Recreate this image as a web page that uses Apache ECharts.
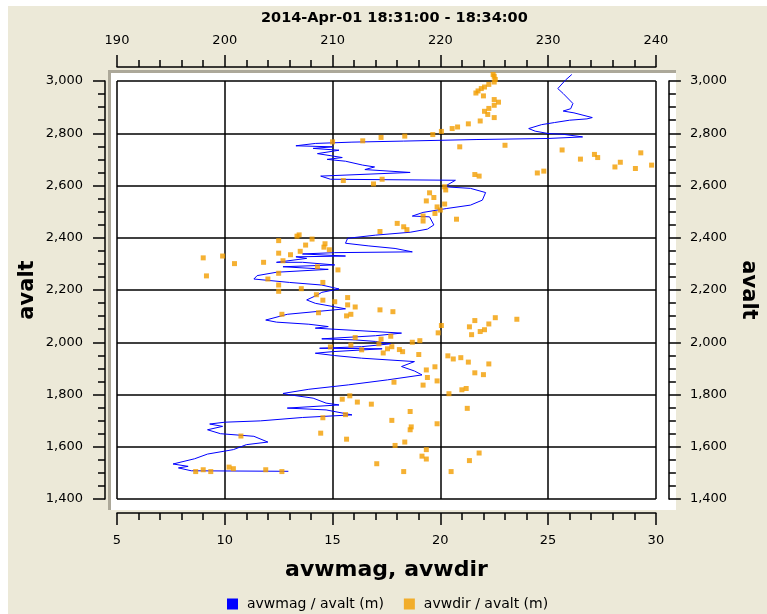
<!DOCTYPE html>
<html>
<head>
<meta charset="utf-8">
<script src="https://cdn.jsdelivr.net/npm/echarts@6/dist/echarts.min.js"></script>
<style>
html,body{margin:0;padding:0;background:#fff;}
#chart{width:767px;height:614px;}
</style>
</head>
<body>
<div id="chart"></div>
<script>
// ---- data ----
const titleText = '2014-Apr-01 18:31:00 - 18:34:00';
const magSeriesName = 'avwmag / avalt (m)';
const dirSeriesName = 'avwdir / avalt (m)';

// blue profile: avwmag (bottom axis) versus avalt
const magValues = [26.1,25.8,25.45,25.7,26.15,26.05,25.7,26.2,27.05,26.8,26.0,25.3,24.7,24.1,24.4,25.0,25.7,26.6,25.0,21.7,
  18.3,15.9,14.2,13.3,15.0,14.1,15.3,14.3,15.45,14.75,15.6,16.4,16.95,16.5,18.6,14.45,14.9,20.7,20.3,20.2,
  21.4,22.1,21.95,21.4,20.3,19.2,18.7,19.5,19.7,19.4,18.6,17.0,15.7,15.6,16.65,17.9,18.7,15.1,13.6,15.6,
  13.3,13.8,12.4,13.6,15.1,12.7,14.8,12.4,11.5,11.35,13.0,14.5,15.3,14.5,14.3,13.8,14.2,15.6,12.9,11.9,
  12.4,13.9,14.8,14.2,18.2,17.0,14.5,16.05,17.0,17.7,16.35,14.4,17.3,15.0,14.2,15.1,16.35,18.8,18.2,18.8,
  19.15,17.55,15.75,13.9,12.7,13.0,14.1,14.7,15.3,12.9,14.7,15.9,13.6,11.65,10.0,9.3,9.9,9.2,9.8,11.35,
  12.0,11.0,10.4,9.2,8.6,7.6,8.3,7.85,8.45,12.95];
const magAltitudes = [3025,3003,2971,2952,2914,2894,2885,2878,2860,2855,2850,2841,2833,2818,2808,2799,2796,2786,2780,2776,
  2770,2766,2761,2752,2748,2742,2735,2722,2707,2700,2693,2678,2671,2661,2650,2636,2624,2620,2601,2595,
  2589,2573,2544,2525,2512,2497,2483,2480,2449,2433,2421,2410,2398,2379,2369,2359,2346,2343,2338,2330,
  2327,2321,2306,2306,2296,2289,2279,2268,2255,2242,2229,2219,2204,2191,2181,2162,2149,2128,2107,2085,
  2077,2069,2060,2054,2035,2025,2013,2009,2003,1994,1983,1977,1975,1964,1958,1949,1939,1926,1907,1890,
  1875,1856,1837,1820,1804,1799,1786,1767,1760,1748,1741,1722,1712,1699,1694,1687,1678,1665,1650,1640,
  1618,1608,1589,1572,1554,1534,1525,1519,1508,1506];

// orange squares: avwdir (top axis) versus avalt
const dirValues = [224.9,225.0,225.1,225.0,224.5,224.1,223.8,223.5,223.3,224.0,225.0,225.4,225.0,224.5,224.1,224.4,225.0,223.7,222.6,221.6,
  221.1,220.1,219.3,216.7,214.5,212.8,210.0,
  221.8,226.0,231.3,233.0,234.3,234.6,236.2,236.7,238.1,238.6,239.6,229.0,229.6,223.2,223.6,211.0,213.8,214.6,
  220.4,220.5,219.0,219.4,218.7,220.4,219.7,220.0,219.5,221.5,218.4,218.4,216.0,216.6,216.9,214.4,
  206.9,206.7,208.1,205.0,209.3,207.5,209.2,209.7,207.0,205.0,206.1,198.0,199.8,205.4,203.6,200.9,208.6,210.5,205.0,198.3,
  204.0,209.1,205.0,207.1,205.0,208.5,211.4,209.1,210.2,211.4,212.1,
  214.4,215.6,208.7,205.3,211.3,211.7,225.1,227.1,223.2,224.5,220.1,222.7,224.1,223.7,219.8,222.9,215.4,212.1,214.5,218.1,217.4,
  214.3,211.7,215.5,209.8,215.1,216.2,212.7,216.5,214.7,218.0,220.7,221.9,221.2,222.6,224.5,219.5,218.7,223.2,224.0,218.8,
  219.7,215.7,218.4,222.4,222.0,220.8,
  211.6,210.9,212.3,213.6,222.5,217.2,211.2,209.1,215.5,219.7,217.3,217.2,208.9,201.5,211.3,216.7,215.8,218.7,223.6,218.3,
  218.7,222.7,214.1,200.4,200.8,198.0,197.3,198.7,203.8,205.3,216.6,221.0];
const dirAltitudes = [3025,3018,3006,2996,2987,2977,2971,2962,2954,2943,2929,2919,2907,2895,2884,2872,2860,2847,2836,2824,
  2818,2807,2795,2789,2784,2771,2767,
  2748,2754,2736,2701,2719,2707,2671,2689,2665,2725,2678,2648,2655,2642,2636,2619,2606,2624,
  2595,2583,2572,2554,2541,2529,2518,2506,2493,2471,2483,2464,2455,2442,2431,2424,
  2411,2406,2395,2389,2377,2372,2364,2354,2348,2341,2335,2323,2330,2312,2306,2301,2289,2277,2264,2254,
  2242,2229,2219,2205,2195,2182,2171,2161,2155,2143,2135,
  2124,2117,2113,2107,2101,2107,2094,2088,2083,2070,2064,2059,2048,2041,2036,2029,2023,2018,2012,2006,2000,
  1994,1989,1983,1982,1975,1972,1971,1964,1959,1953,1948,1941,1936,1924,1917,1906,1894,1883,1876,1865,
  1852,1847,1836,1823,1818,1803,
  1795,1782,1771,1763,1747,1735,1723,1711,1701,1688,1676,1665,1652,1641,1629,1618,1605,1589,1576,1564,
  1553,1547,1535,1522,1516,1512,1505,1505,1512,1505,1505,1505];

// axis ranges / ticks
const magAxis = {min: 5, max: 30, interval: 5};
const dirAxis = {min: 190, max: 240, interval: 10};
const altAxis = {min: 1400, max: 3000, interval: 200};
const xAxisName = 'avwmag, avwdir';
const yAxisName = 'avalt';

// ---- chart ----
const FONT = 'DejaVu Sans';
const magData = magValues.map((v, i) => [v, magAltitudes[i]]);
const dirData = dirValues.map((v, i) => [v, dirAltitudes[i]]);
const fmt = v => String(v).replace(/\B(?=(\d{3})+(?!\d))/g, ',');

const axisCommon = {
  type: 'value',
  axisLine: {show: true, onZero: false, lineStyle: {color: '#000', width: 1.5}},
  axisTick: {show: true, inside: false, length: 12, lineStyle: {color: '#000', width: 1.5}},
  minorTick: {show: true, length: 7, lineStyle: {color: '#000', width: 1.5}},
  axisLabel: {color: '#000', fontFamily: FONT, fontSize: 13},
  nameTextStyle: {color: '#000', fontFamily: FONT, fontWeight: 'bold', fontSize: 22},
  nameLocation: 'middle'
};

const chart = echarts.init(document.getElementById('chart'), null, {renderer: 'canvas'});
chart.setOption({
  animation: false,
  backgroundColor: '#ECE9D8',
  title: {
    text: titleText, left: 256, top: 6,
    textStyle: {fontFamily: FONT, fontWeight: 'bold', fontSize: 14.5, color: '#000'}
  },
  graphic: [
    {type: 'rect', z: -100, shape: {x: 0, y: 0, width: 767, height: 6}, style: {fill: '#fff'}},
    {type: 'rect', z: -100, shape: {x: 0, y: 0, width: 8, height: 614}, style: {fill: '#fff'}},
    {type: 'rect', z: -100, shape: {x: 108, y: 70, width: 568, height: 440}, style: {fill: '#ACA899'}},
    {type: 'rect', z: -99, shape: {x: 111, y: 73, width: 565, height: 437}, style: {fill: '#fff'}}
  ],
  legend: {
    left: 222, top: 592, icon: 'rect', itemWidth: 11, itemHeight: 11, itemGap: 20,
    textStyle: {fontFamily: FONT, fontSize: 14, color: '#000', padding: [0, 0, 0, 4]},
    data: [magSeriesName, dirSeriesName]
  },
  grid: {left: 117, top: 81, width: 549, height: 418, containLabel: false},
  xAxis: [
    Object.assign({}, axisCommon, {
      position: 'bottom', offset: 14, min: magAxis.min, max: magAxis.max, interval: magAxis.interval,
      minorTick: Object.assign({}, axisCommon.minorTick, {splitNumber: 5}),
      axisLabel: Object.assign({}, axisCommon.axisLabel, {margin: 21}),
      splitLine: {show: true, lineStyle: {color: '#000', width: 1.5}},
      name: xAxisName, nameGap: 46
    }),
    Object.assign({}, axisCommon, {
      position: 'top', offset: 14, min: dirAxis.min, max: dirAxis.max, interval: dirAxis.interval,
      minorTick: Object.assign({}, axisCommon.minorTick, {splitNumber: 5}),
      axisLabel: Object.assign({}, axisCommon.axisLabel, {margin: 20}),
      splitLine: {show: false}
    })
  ],
  yAxis: [
    Object.assign({}, axisCommon, {
      position: 'left', offset: 12, min: altAxis.min, max: altAxis.max, interval: altAxis.interval,
      minorTick: Object.assign({}, axisCommon.minorTick, {splitNumber: 4}),
      axisLabel: Object.assign({}, axisCommon.axisLabel, {margin: 22, formatter: fmt}),
      splitLine: {show: true, lineStyle: {color: '#000', width: 1.5}},
      name: yAxisName, nameRotate: 90, nameGap: 67, nameMoveOverlap: false,
      nameTextStyle: Object.assign({}, axisCommon.nameTextStyle, {fontSize: 21})
    }),
    Object.assign({}, axisCommon, {
      position: 'right', offset: 13, min: altAxis.min, max: altAxis.max, interval: altAxis.interval,
      minorTick: Object.assign({}, axisCommon.minorTick, {splitNumber: 4}),
      axisLabel: Object.assign({}, axisCommon.axisLabel, {margin: 21, formatter: fmt}),
      splitLine: {show: false},
      name: yAxisName, nameRotate: -90, nameGap: 66,
      nameTextStyle: Object.assign({}, axisCommon.nameTextStyle, {fontSize: 21})
    })
  ],
  series: [
    {
      name: magSeriesName, type: 'line', xAxisIndex: 0, yAxisIndex: 0,
      data: magData, showSymbol: false, symbol: 'none', z: 3, clip: false,
      lineStyle: {color: '#0000FF', width: 1},
      itemStyle: {color: '#0000FF'}
    },
    {
      name: dirSeriesName, type: 'scatter', xAxisIndex: 1, yAxisIndex: 0,
      data: dirData, symbol: 'rect', symbolSize: 5, z: 4, clip: false,
      itemStyle: {color: '#F29E00'}
    }
  ]
});
</script>
</body>
</html>
